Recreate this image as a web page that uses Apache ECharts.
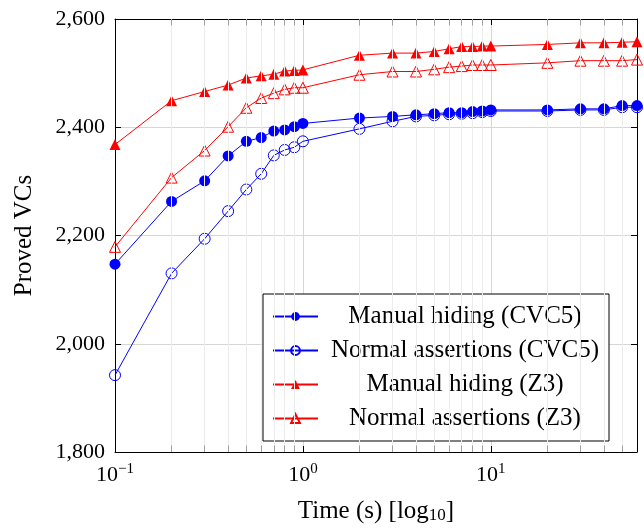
<!DOCTYPE html>
<html>
<head>
<meta charset="utf-8">
<script src="https://cdn.jsdelivr.net/npm/echarts@6/dist/echarts.min.js"></script>
<style>
html,body{margin:0;padding:0;background:#fff;}
#chart{width:644px;height:529px;}
</style>
</head>
<body>
<div id="chart"></div>
<script>
const times = [0.1,0.2,0.3,0.4,0.5,0.6,0.7,0.8,0.9,1,2,3,4,5,6,7,8,9,10,20,30,40,50,60];
const manualCVC5 = [2147,2263,2301,2347,2374,2381,2393,2395,2401,2407,2417,2420,2423,2425,2427,2427,2429,2430,2432,2432,2434,2434,2440,2440];
const normalCVC5 = [1942,2130,2194,2245,2285,2314,2348,2358,2363,2374,2397,2411,2420,2422,2424,2425,2426,2428,2430,2430,2432,2432,2437,2437];
const manualZ3 = [2368,2449,2466,2478,2491,2495,2498,2504,2505,2506,2533,2537,2537,2540,2545,2549,2549,2550,2550,2553,2556,2556,2557,2558];
const normalZ3 = [2179,2307,2357,2401,2436,2454,2463,2470,2473,2473,2497,2503,2503,2507,2511,2513,2515,2515,2515,2519,2523,2523,2523,2525];
const seriesNames = ['Manual hiding (CVC5)','Normal assertions (CVC5)','Manual hiding (Z3)','Normal assertions (Z3)'];
const minorGrid = [0.2,0.3,0.4,0.5,0.6,0.7,0.8,0.9,2,3,4,5,6,7,8,9,20,30,40,50];
const yTicks = {min:1800, max:2600, step:200};
const xRange = {min:0.1, max:60};

const FONT = 'Liberation Serif';
function pairs(ys){ return times.map((t,i)=>[t, ys[i]]); }
function fmtComma(v){ return String(v).replace(/\B(?=(\d{3})+(?!\d))/g, ','); }

const chart = echarts.init(document.getElementById('chart'));
const blue = '#0000ff', red = '#ff0000';

function mk(name, ys, color, symbol, filled){
  return {
    name: name, type:'line', data: pairs(ys), z:3,
    symbol: symbol, symbolSize: 11,
    showAllSymbol:true,
    lineStyle:{color: color, width:1},
    itemStyle: filled ? {color: color} : {color:'rgba(255,255,255,0)', borderColor: color, borderWidth:1},
    emphasis:{disabled:true},
    animation:false
  };
}

// minor tick segments (bottom and top), in data coords of the axes
const tickLen = 12;
const minorTicks = [];
minorGrid.forEach(v => {
  minorTicks.push([{coord:[v, yTicks.min]}, {coord:[v, yTicks.min + tickLen]}]);
  minorTicks.push([{coord:[v, yTicks.max]}, {coord:[v, yTicks.max - tickLen]}]);
});

const option = {
  animation:false,
  textStyle:{fontFamily: FONT},
  grid:{left:115, right:7, top:19, bottom:76},
  legend:{
    orient:'vertical', left:263, top:294,
    data: seriesNames,
    backgroundColor:'#fff', borderColor:'#000', borderWidth:1, borderRadius:0,
    padding:[10,2,10,9], itemGap:9, itemWidth:45, itemHeight:11,
    textStyle:{fontFamily:FONT, fontSize:25, color:'#000',
      rich:{ c:{fontFamily:FONT, fontSize:25, color:'#000', width:284, align:'center', lineHeight:26} } },
    formatter: n => '{c|' + n + '}',
    selectedMode:false
  },
  xAxis:[{
    type:'log', logBase:10, min:xRange.min, max:xRange.max,
    position:'bottom',
    axisLine:{show:true, lineStyle:{color:'#000', width:1}},
    axisTick:{show:true, inside:true, length:6, lineStyle:{color:'#000'}},
    splitLine:{show:true, lineStyle:{color:'#d6d6d6', width:1}},
    axisLabel:{
      showMaxLabel:false, margin:10,
      formatter: v => { const e = Math.round(Math.log10(v)); return '{b|10}{s|' + (e<0?'\u2212'+(-e):e) + '}'; },
      rich:{ b:{fontFamily:FONT, fontSize:22, color:'#000', lineHeight:26}, s:{fontFamily:FONT, fontSize:15, color:'#000', verticalAlign:'top', lineHeight:15} }
    },
    name:'Time (s) [log{sub|10}]', nameLocation:'middle', nameGap:47,
    nameTextStyle:{fontFamily:FONT, fontSize:25, color:'#000',
      rich:{ sub:{fontFamily:FONT, fontSize:17, color:'#000', verticalAlign:'bottom', lineHeight:17, padding:[10,0,0,0]} } }
  },{
    type:'log', logBase:10, min:xRange.min, max:xRange.max,
    position:'top',
    axisLine:{show:true, lineStyle:{color:'#000', width:1}},
    axisTick:{show:true, inside:true, length:6, lineStyle:{color:'#000'}},
    axisLabel:{show:false}, splitLine:{show:false}
  }],
  yAxis:[{
    type:'value', min:yTicks.min, max:yTicks.max, interval:yTicks.step,
    axisLine:{show:true, lineStyle:{color:'#000', width:1}},
    axisTick:{show:true, inside:true, length:6, lineStyle:{color:'#000'}},
    splitLine:{show:true, lineStyle:{color:'#d6d6d6', width:1}},
    axisLabel:{formatter: v => fmtComma(v), fontFamily:FONT, fontSize:22, color:'#000', margin:10},
    name:'Proved VCs', nameLocation:'middle', nameGap:78, nameRotate:90,
    nameTextStyle:{fontFamily:FONT, fontSize:25, color:'#000'}
  },{
    type:'value', min:yTicks.min, max:yTicks.max, interval:yTicks.step,
    position:'right',
    axisLine:{show:true, lineStyle:{color:'#000', width:1}},
    axisTick:{show:true, inside:true, length:6, lineStyle:{color:'#000'}},
    axisLabel:{show:false}, splitLine:{show:false}
  }],
  series:[
    {
      name:'minor-grid', type:'line', data:[], z:1, silent:true,
      markLine:{
        silent:true, symbol:['none','none'], animation:false,
        label:{show:false},
        lineStyle:{color:'#ececec', type:'solid', width:1},
        data: minorGrid.map(v=>({xAxis:v})).concat(minorTicks.map(p => [
          Object.assign({}, p[0], {lineStyle:{color:'#a0a0a0', width:1, type:'solid'}}), p[1]
        ]))
      }
    },
    mk(seriesNames[0], manualCVC5, blue, 'circle', true),
    mk(seriesNames[1], normalCVC5, blue, 'circle', false),
    mk(seriesNames[2], manualZ3, red, 'triangle', true),
    mk(seriesNames[3], normalZ3, red, 'triangle', false)
  ]
};
chart.setOption(option);
</script>
</body>
</html>
